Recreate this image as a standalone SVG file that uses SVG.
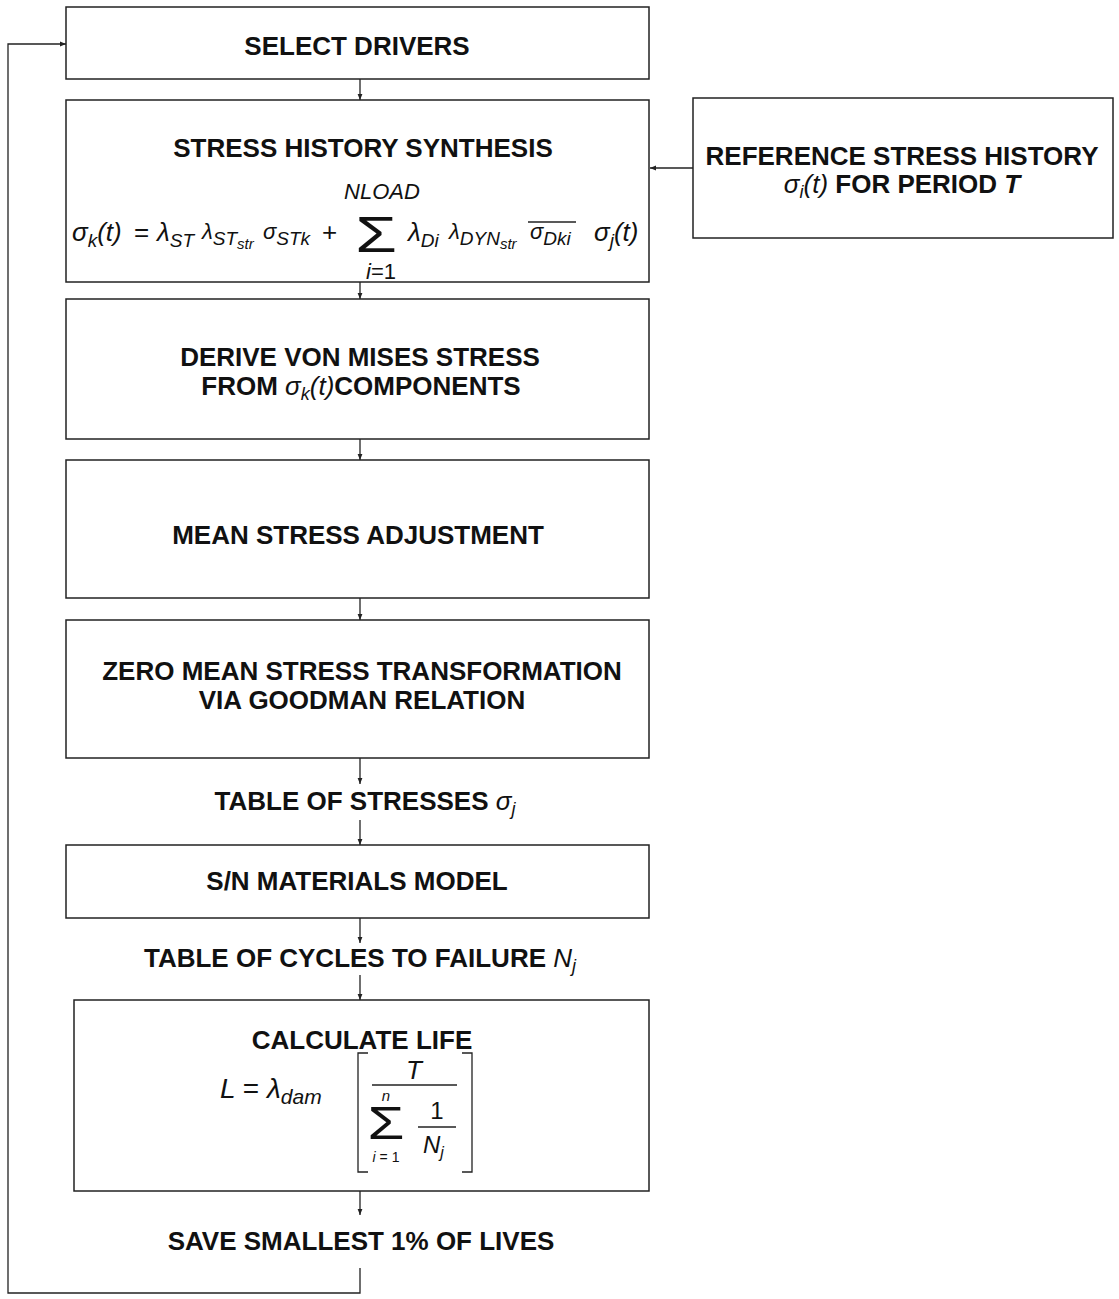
<svg xmlns="http://www.w3.org/2000/svg" width="1119" height="1299" viewBox="0 0 1119 1299">
  <style>
    .box { fill: none; stroke: #222; stroke-width: 1.5; }
    .t { font-family: "Liberation Sans", Arial, sans-serif; font-weight: bold; font-size: 26px; fill: #111; text-anchor: middle; }
    .m { font-family: "Liberation Sans", Arial, sans-serif; font-style: italic; font-weight: normal; fill: #111; }
    .r { font-family: "Liberation Sans", Arial, sans-serif; font-style: normal; font-weight: normal; fill: #111; }
    .c { stroke: #222; stroke-width: 1.3; fill: none; }
    .ln { stroke: #222; stroke-width: 1.3; }
  </style>
  <defs>
    <marker id="ah" viewBox="0 0 10 10" refX="10" refY="5" markerWidth="6" markerHeight="6" orient="auto" markerUnits="userSpaceOnUse">
      <path d="M0,1 L10,5 L0,9 z" fill="#222"/>
    </marker>
  </defs>
  <rect width="1119" height="1299" fill="#fff"/>

  <!-- connectors -->
  <g id="connectors">
    <line class="c" x1="360" y1="79" x2="360" y2="100" marker-end="url(#ah)"/>
    <line class="c" x1="693" y1="168" x2="650" y2="168" marker-end="url(#ah)"/>
    <line class="c" x1="360" y1="282" x2="360" y2="299" marker-end="url(#ah)"/>
    <line class="c" x1="360" y1="439" x2="360" y2="460" marker-end="url(#ah)"/>
    <line class="c" x1="360" y1="598" x2="360" y2="620" marker-end="url(#ah)"/>
    <line class="c" x1="360" y1="758" x2="360" y2="784" marker-end="url(#ah)"/>
    <line class="c" x1="360" y1="820" x2="360" y2="845" marker-end="url(#ah)"/>
    <line class="c" x1="360" y1="918" x2="360" y2="943" marker-end="url(#ah)"/>
    <line class="c" x1="360" y1="975" x2="360" y2="1000" marker-end="url(#ah)"/>
    <line class="c" x1="360" y1="1191" x2="360" y2="1215" marker-end="url(#ah)"/>
    <path class="c" d="M360,1268 V1293 H8 V44 H66" marker-end="url(#ah)"/>
  </g>

  <!-- select drivers -->
  <g id="select-drivers">
    <rect class="box" x="66" y="7" width="583" height="72"/>
    <text class="t" x="357" y="55">SELECT DRIVERS</text>
  </g>

  <!-- stress history synthesis -->
  <g id="synthesis">
    <rect class="box" x="66" y="100" width="583" height="182"/>
    <text class="t" x="363" y="157">STRESS HISTORY SYNTHESIS</text>
    <text class="m" x="382" y="199" font-size="22" text-anchor="middle">NLOAD</text>
    <text class="m" x="72" y="241" font-size="26">σ<tspan font-size="19" dy="6">k</tspan><tspan dy="-6">(t)</tspan></text>
    <text class="r" x="134" y="241" font-size="26">=</text>
    <text class="m" x="157" y="241" font-size="26">λ<tspan font-size="19" dy="6">ST</tspan></text>
    <text class="m" x="202" y="239" font-size="22">λ<tspan font-size="19" dy="6">ST</tspan><tspan font-size="15" dy="4">str</tspan></text>
    <text class="m" x="263" y="239" font-size="22">σ<tspan font-size="19" dy="6">STk</tspan></text>
    <text class="r" x="322" y="241" font-size="26">+</text>
    <text class="r" x="0" y="0" font-size="50" text-anchor="middle" transform="translate(376,252) scale(1.35,1)">Σ</text>
    <text class="m" x="381" y="279" font-size="22" text-anchor="middle">i<tspan class="r">=1</tspan></text>
    <text class="m" x="408" y="241" font-size="26">λ<tspan font-size="19" dy="6">Di</tspan></text>
    <text class="m" x="449" y="239" font-size="22">λ<tspan font-size="19" dy="6">DYN</tspan><tspan font-size="15" dy="4">str</tspan></text>
    <line class="ln" x1="528" y1="222" x2="576" y2="222"/>
    <text class="m" x="530" y="239" font-size="22">σ<tspan font-size="19" dy="6">Dki</tspan></text>
    <text class="m" x="594" y="241" font-size="26">σ<tspan font-size="19" dy="6">j</tspan><tspan dy="-6">(t)</tspan></text>
  </g>

  <!-- reference stress history -->
  <g id="reference-history">
    <rect class="box" x="693" y="98" width="420" height="140"/>
    <text class="t" x="902" y="165">REFERENCE STRESS HISTORY</text>
    <text class="t" x="902" y="193"><tspan class="m">σ<tspan font-size="18" dy="5">i</tspan><tspan dy="-5">(t)</tspan></tspan> FOR PERIOD <tspan font-style="italic">T</tspan></text>
  </g>

  <!-- von mises -->
  <g id="von-mises">
    <rect class="box" x="66" y="299" width="583" height="140"/>
    <text class="t" x="360" y="366">DERIVE VON MISES STRESS</text>
    <text class="t" x="361" y="395">FROM <tspan class="m">σ<tspan font-size="18" dy="5">k</tspan><tspan dy="-5">(t)</tspan></tspan>COMPONENTS</text>
  </g>

  <!-- mean stress adjustment -->
  <g id="mean-stress">
    <rect class="box" x="66" y="460" width="583" height="138"/>
    <text class="t" x="358" y="544">MEAN STRESS ADJUSTMENT</text>
  </g>

  <!-- goodman transformation -->
  <g id="goodman">
    <rect class="box" x="66" y="620" width="583" height="138"/>
    <text class="t" x="362" y="680">ZERO MEAN STRESS TRANSFORMATION</text>
    <text class="t" x="362" y="709">VIA GOODMAN RELATION</text>
  </g>

  <!-- table of stresses -->
  <g id="table-stresses">
    <text class="t" x="365" y="810">TABLE OF STRESSES <tspan class="m">σ<tspan font-size="18" dy="5">j</tspan></tspan></text>
  </g>

  <!-- s/n model -->
  <g id="sn-model">
    <rect class="box" x="66" y="845" width="583" height="73"/>
    <text class="t" x="357" y="890">S/N MATERIALS MODEL</text>
  </g>

  <!-- table of cycles -->
  <g id="table-cycles">
    <text class="t" x="360" y="967">TABLE OF CYCLES TO FAILURE <tspan class="m">N<tspan font-size="18" dy="5">j</tspan></tspan></text>
  </g>

  <!-- calculate life -->
  <g id="calculate-life">
    <rect class="box" x="74" y="1000" width="575" height="191"/>
    <text class="t" x="362" y="1049">CALCULATE LIFE</text>
    <text class="m" x="220" y="1098" font-size="28">L <tspan class="r">=</tspan> λ<tspan font-size="21" dy="6">dam</tspan></text>
    <path class="c" stroke-width="2" d="M368,1053 H358 V1172 H368"/>
    <path class="c" stroke-width="2" d="M462,1053 H472 V1172 H462"/>
    <text class="m" x="414" y="1079" font-size="26" text-anchor="middle">T</text>
    <line class="ln" x1="372" y1="1085" x2="457" y2="1085"/>
    <text class="m" x="386" y="1101" font-size="15" text-anchor="middle">n</text>
    <text class="r" x="0" y="0" font-size="46" text-anchor="middle" transform="translate(386,1139) scale(1.3,1)">Σ</text>
    <text class="m" x="386" y="1162" font-size="14" text-anchor="middle">i<tspan class="r"> = 1</tspan></text>
    <text class="r" x="437" y="1119" font-size="24" text-anchor="middle">1</text>
    <line class="ln" x1="418" y1="1127" x2="456" y2="1127"/>
    <text class="m" x="423" y="1153" font-size="24">N<tspan font-size="16" dy="5">j</tspan></text>
  </g>

  <!-- save smallest lives -->
  <g id="save-lives">
    <text class="t" x="361" y="1250">SAVE SMALLEST 1% OF LIVES</text>
  </g>
</svg>
